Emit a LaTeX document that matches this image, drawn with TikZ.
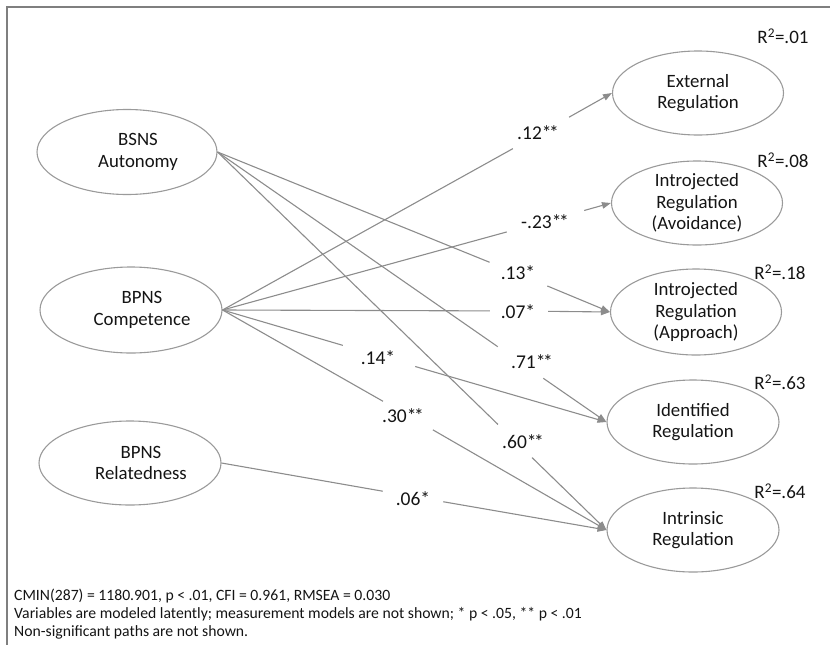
\documentclass[tikz,border=0pt]{standalone}
\usepackage{fontspec}
\setmainfont{Carlito}
\usetikzlibrary{shapes.geometric,arrows.meta}
\definecolor{linegray}{HTML}{8C8C8C}
\definecolor{ellgray}{HTML}{9A9A9A}
\definecolor{framegray}{HTML}{7F7F7F}
\definecolor{txt}{HTML}{141414}
\newcommand\twostar{*\kern-2.5pt*}
\newcommand\shiftln{\hspace*{22pt}}
\begin{document}
\begin{tikzpicture}[x=1pt,y=-1pt,
  latent/.style={ellipse, draw=ellgray, line width=1.1pt, inner sep=0pt,
    minimum width=180pt, minimum height=85pt, align=center,
    font=\fontsize{18.8}{21.5}\selectfont, text=txt},
  outcome/.style={latent, minimum width=171pt, minimum height=84pt},
  gapnode/.style={circle, inner sep=0pt, minimum size=#1},
  pathline/.style={draw=linegray, line width=1.1pt},
  arr/.style={pathline, -{Triangle[length=9pt,width=6.5pt]}},
  coef/.style={font=\fontsize{19.5}{22}\selectfont, text=txt, inner sep=0pt},
  rsq/.style={font=\fontsize{19}{22}\selectfont, text=txt, inner sep=0pt},
  note/.style={font=\fontsize{15.7}{18}\selectfont, text=txt, align=left, inner sep=0pt}
]
\useasboundingbox (0,0) rectangle (830,645);
% frame
\draw[framegray, line width=2.5pt] (7,645) -- (7,7) -- (830,7);

% predictors
\node[latent] (auto) at (127,152) {\shiftln BSNS\\\shiftln Autonomy};
\node[latent, minimum width=182pt, minimum height=86pt] (comp) at (131,310) {\shiftln BPNS\\\shiftln Competence};
\node[latent, minimum width=182pt, minimum height=84pt] (rel) at (130,463) {\shiftln BPNS\\\shiftln Relatedness};

% outcomes
\node[outcome] (ext) at (698,93) {External\\Regulation};
\node[outcome] (avoid) at (697,203) {Introjected\\Regulation\\(Avoidance)};
\node[outcome, minimum height=86pt] (appr) at (696,312) {Introjected\\Regulation\\(Approach)};
\node[outcome, minimum width=172pt] (ident) at (693,422) {Identified\\Regulation};
\node[outcome, minimum width=172pt] (intr) at (693,530) {Intrinsic\\Regulation};

% R squared
\node[rsq] (r1) at (783,36) {R\textsuperscript{2}=.01};
\node[rsq] (r2) at (783,160) {R\textsuperscript{2}=.08};
\node[rsq] (r3) at (780,272) {R\textsuperscript{2}=.18};
\node[rsq] (r4) at (780,382) {R\textsuperscript{2}=.63};
\node[rsq] (r5) at (780,491) {R\textsuperscript{2}=.64};

% gaps in the paths
\node[gapnode=64pt] (g1) at (541,133) {};
\node[gapnode=80pt] (g2) at (545.5,221.3) {};
\node[gapnode=58pt] (g3) at (519,311) {};
\node[gapnode=62pt] (g4) at (518.5,274) {};
\node[gapnode=55pt] (g5) at (520.5,362.5) {};
\node[gapnode=47pt] (g6) at (515,441) {};
\node[gapnode=75pt] (g7) at (379,356) {};
\node[gapnode=57pt] (g8) at (408,415.5) {};
\node[gapnode=61pt] (g9) at (413,496.5) {};

% coefficient labels
\node[coef] (c1) at (538,133) {.12\twostar};
\node[coef] (c2) at (545,222) {-.23\twostar};
\node[coef] (c3) at (518,312) {.07*};
\node[coef] (c4) at (518,273) {.13*};
\node[coef] (c5) at (532,362) {.71\twostar};
\node[coef] (c6) at (523,442) {.60\twostar};
\node[coef] (c7) at (378,358) {.14*};
\node[coef] (c8) at (403,416) {.30\twostar};
\node[coef] (c9) at (413,499) {.06*};

% paths
\draw[pathline] (comp.east) -- (g1); \draw[arr] (g1) -- (ext.west);
\draw[pathline] (comp.east) -- (g2); \draw[arr] (g2) -- (avoid.west);
\draw[pathline] (comp.east) -- (g3); \draw[arr] (g3) -- (appr.west);
\draw[pathline] (auto.east) -- (g4); \draw[arr] (g4) -- (appr.west);
\draw[pathline] (auto.east) -- (g5); \draw[arr] (g5) -- (ident.west);
\draw[pathline] (auto.east) -- (g6); \draw[arr] (g6) -- (intr.west);
\draw[pathline] (comp.east) -- (g7); \draw[arr] (g7) -- (ident.west);
\draw[pathline] (comp.east) -- (g8); \draw[arr] (g8) -- (intr.west);
\draw[pathline] (rel.east) -- (g9); \draw[arr] (g9) -- (intr.west);

% notes
\node[note, anchor=west] (notes) at (14,614) {CMIN(287) = 1180.901, p {\textless} .01, CFI = 0.961, RMSEA = 0.030\\
Variables are modeled latently; measurement models are not shown; * p {\textless} .05, ** p {\textless} .01\\
Non-significant paths are not shown.};
\end{tikzpicture}
\end{document}
